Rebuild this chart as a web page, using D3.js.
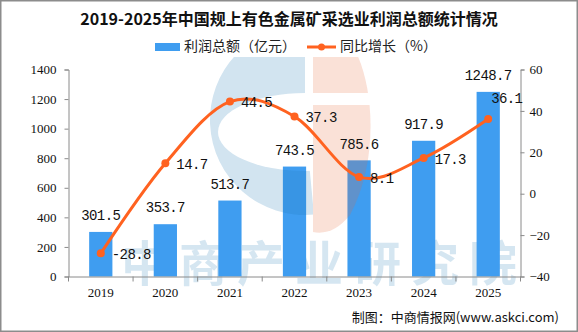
<!DOCTYPE html>
<html>
<head>
<meta charset="utf-8">
<script src="https://cdn.jsdelivr.net/npm/d3@7"></script>
<style>
  body { margin: 0; background: #fff; }
</style>
</head>
<body>
<div id="chart"></div>
<script>
// data
const years = ["2019", "2020", "2021", "2022", "2023", "2024", "2025"];
const profit = [301.5, 353.7, 513.7, 743.5, 785.6, 917.9, 1248.7];
const growth = [-28.8, 14.7, 44.5, 37.3, 8.1, 17.3, 36.1];
const leftTicks = [0, 200, 400, 600, 800, 1000, 1200, 1400];
const rightTicks = [-40, -20, 0, 20, 40, 60];

const title = "2019-2025年中国规上有色金属矿采选业利润总额统计情况";
const barName = "利润总额（亿元）";
const lineName = "同比增长（%）";
const source = "制图：中商情报网(www.askci.com)";
const watermark = "中商产业研究院";

const width = 578, height = 332;
const plot = { left: 68.5, right: 520.5, top: 69.5, bottom: 276.5 };
const barColor = "#3f9df0";
const lineColor = "#ff6220";
const axisColor = "#8a8a8a";
const cjk = "'Noto Sans CJK SC', sans-serif";
const tickFont = "'Liberation Serif', serif";
const labelFont = "'Liberation Mono', monospace";

const svg = d3.select("#chart").append("svg")
    .attr("width", width)
    .attr("height", height);

svg.append("rect")
    .attr("width", width).attr("height", height)
    .attr("fill", "#fff");

// scales
const x = d3.scaleBand().domain(years).range([plot.left, plot.right]).padding(0);
const yL = d3.scaleLinear().domain([0, 1400]).range([plot.bottom, plot.top]);
const yR = d3.scaleLinear().domain([-40, 60]).range([plot.bottom, plot.top]);
const barW = x.bandwidth() * 0.36;
const cx = d => x(d) + x.bandwidth() / 2;

// watermark text (behind bars)
svg.append("text")
    .attr("x", 121)
    .attr("y", 281)
    .style("font-family", cjk)
    .style("font-weight", "bold")
    .style("font-size", "48px")
    .style("letter-spacing", "10px")
    .style("fill", "#1e78b4")
    .style("opacity", 0.18)
    .text(watermark);

// bars
svg.append("g").selectAll("rect")
    .data(years)
    .enter().append("rect")
    .attr("x", d => cx(d) - barW / 2)
    .attr("y", (d, i) => yL(profit[i]))
    .attr("width", barW)
    .attr("height", (d, i) => yL(0) - yL(profit[i]))
    .attr("fill", barColor);

// logo watermark (over bars, faint)
const defs = svg.append("defs");
defs.append("clipPath").attr("id", "plotClip")
    .append("rect")
    .attr("x", plot.left).attr("y", 57)
    .attr("width", plot.right - plot.left).attr("height", plot.bottom - 57);
const bandClip = defs.append("clipPath").attr("id", "bandClip");
bandClip.append("rect").attr("x", 300).attr("y", 40).attr("width", 100).attr("height", 53);
bandClip.append("rect").attr("x", 300).attr("y", 105).attr("width", 100).attr("height", 150);
const holeMask = defs.append("mask").attr("id", "holeMask")
    .attr("maskUnits", "userSpaceOnUse")
    .attr("x", 0).attr("y", 0).attr("width", width).attr("height", height);
holeMask.append("rect").attr("width", width).attr("height", height).attr("fill", "#fff");
holeMask.append("ellipse")
    .attr("cx", 305).attr("cy", 132).attr("rx", 87).attr("ry", 39)
    .attr("fill", "#000");

const logo = svg.append("g")
    .attr("clip-path", "url(#plotClip)")
    .style("opacity", 0.2);
logo.append("g")
    .attr("mask", "url(#holeMask)")
    .append("path")
    .attr("d", d3.arc()({ innerRadius: 0, outerRadius: 95, startAngle: Math.PI * 0.97, endAngle: Math.PI * 2 }))
    .attr("transform", "translate(305,120)")
    .attr("fill", "#1e78b4");
logo.append("path")
    .attr("d", "M313,45 H352 C374,80 380,160 350,215 Q333,236 313,232 Z")
    .attr("clip-path", "url(#bandClip)")
    .attr("fill", "#e6683a");

// axes
const axisStyle = g => {
    g.selectAll("path, line").attr("stroke", axisColor).attr("stroke-width", 1);
    g.selectAll("text")
        .style("font-family", tickFont)
        .style("font-size", "13px")
        .attr("fill", "#111");
};

svg.append("g")
    .attr("transform", `translate(${plot.left},0)`)
    .call(d3.axisLeft(yL).tickValues(leftTicks).tickFormat(d3.format("d")).tickSize(4).tickPadding(8))
    .call(axisStyle);

svg.append("g")
    .attr("transform", `translate(${plot.right},0)`)
    .call(d3.axisRight(yR).tickValues(rightTicks).tickFormat(d3.format("d")).tickSize(4).tickPadding(5))
    .call(axisStyle);

const xAxis = svg.append("g")
    .attr("transform", `translate(0,${plot.bottom})`)
    .call(d3.axisBottom(x).tickSize(0).tickPadding(11))
    .call(axisStyle);
xAxis.selectAll(".boundary")
    .data(years.map(d => x(d)).concat([plot.right]))
    .enter().append("line")
    .attr("class", "boundary")
    .attr("x1", d => d).attr("x2", d => d)
    .attr("y1", 0).attr("y2", 5)
    .attr("stroke", axisColor);

// bar value labels
svg.append("g").selectAll("text")
    .data(years)
    .enter().append("text")
    .attr("x", d => cx(d))
    .attr("y", (d, i) => yL(profit[i]) - 15.5)
    .attr("text-anchor", "middle")
    .attr("dominant-baseline", "middle")
    .style("font-family", labelFont)
    .style("font-size", "14px")
    .style("letter-spacing", "-0.6px")
    .style("fill", "#111")
    .text((d, i) => profit[i].toFixed(1));

// growth line
const pts = years.map((d, i) => [cx(d), yR(growth[i])]);
svg.append("path")
    .attr("d", d3.line().curve(d3.curveCardinal)(pts))
    .attr("fill", "none")
    .attr("stroke", lineColor)
    .attr("stroke-width", 3);

svg.append("g").selectAll("circle")
    .data(pts)
    .enter().append("circle")
    .attr("cx", d => d[0])
    .attr("cy", d => d[1])
    .attr("r", 4)
    .attr("fill", lineColor);

// growth labels sit right of each point; the last one goes above, clear of the axis
svg.append("g").selectAll("text")
    .data(growth)
    .enter().append("text")
    .attr("x", (d, i) => pts[i][0] + (i === growth.length - 1 ? 3 : 11))
    .attr("y", (d, i) => pts[i][1] + (i === growth.length - 1 ? -20 : 2))
    .attr("dominant-baseline", "middle")
    .style("font-family", labelFont)
    .style("font-size", "14px")
    .style("letter-spacing", "-0.6px")
    .style("fill", "#111")
    .text(d => d.toFixed(1));

// title
svg.append("text")
    .attr("x", width / 2)
    .attr("y", 21)
    .attr("text-anchor", "middle")
    .attr("dominant-baseline", "middle")
    .style("font-family", cjk)
    .style("font-weight", "bold")
    .style("font-size", "16px")
    .style("fill", "#111")
    .text(title);

// legend
const legend = svg.append("g").attr("transform", "translate(155,47)");
legend.append("rect")
    .attr("x", 0).attr("y", -4)
    .attr("width", 25).attr("height", 8)
    .attr("fill", barColor);
legend.append("text")
    .attr("x", 29).attr("y", 0)
    .attr("dominant-baseline", "middle")
    .style("font-family", cjk)
    .style("font-size", "14px")
    .style("fill", "#222")
    .text(barName);
legend.append("line")
    .attr("x1", 152).attr("x2", 181)
    .attr("y1", 0).attr("y2", 0)
    .attr("stroke", lineColor)
    .attr("stroke-width", 3);
legend.append("circle")
    .attr("cx", 166.5).attr("cy", 0).attr("r", 3.5)
    .attr("fill", lineColor);
legend.append("text")
    .attr("x", 185).attr("y", 0)
    .attr("dominant-baseline", "middle")
    .style("font-family", cjk)
    .style("font-size", "14px")
    .style("fill", "#222")
    .text(lineName);

// source note
svg.append("text")
    .attr("x", 559)
    .attr("y", 318)
    .attr("text-anchor", "end")
    .attr("dominant-baseline", "middle")
    .style("font-family", cjk)
    .style("font-size", "13px")
    .style("fill", "#111")
    .text(source);

// outer frame
svg.append("rect")
    .attr("x", 0.75).attr("y", 0.75)
    .attr("width", width - 1.5).attr("height", height - 1.5)
    .attr("fill", "none")
    .attr("stroke", "#8c8c8c")
    .attr("stroke-width", 1.5);
</script>
</body>
</html>
